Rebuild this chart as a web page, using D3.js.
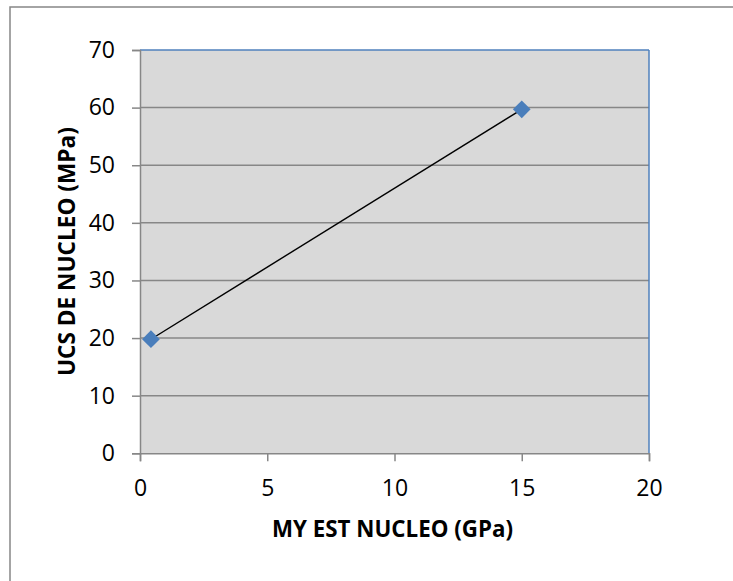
<!DOCTYPE html>
<html><head><meta charset="utf-8">
<script src="https://cdn.jsdelivr.net/npm/d3@7"></script>
<style>body{margin:0;background:#fff}svg{display:block}</style>
</head><body><svg id="c" width="733" height="581"></svg>
<script>
const xValues = [0.43, 15.0];
const yValues = [19.8, 59.7];
const xTicks = [0, 5, 10, 15, 20];
const yTicks = [0, 10, 20, 30, 40, 50, 60, 70];
const xTitle = "MY EST NUCLEO (GPa)";
const yTitle = "UCS DE NUCLEO (MPa)";

const svg = d3.select("#c");
const font = "'Open Sans', 'Liberation Sans', sans-serif";
svg.append("rect").attr("x",10).attr("y",7).attr("width",740).attr("height",600)
  .attr("fill","#fff").attr("stroke","#878787").attr("stroke-width",1.5);

const L=140, R=649, T=50, B=453.3;
const x = d3.scaleLinear().domain([0,20]).range([L,R]);
const y = d3.scaleLinear().domain([0,70]).range([B,T]);

svg.append("rect").attr("x",L).attr("y",T).attr("width",R-L).attr("height",B-T).attr("fill","#d9d9d9");
svg.append("g").selectAll("line").data(yTicks.filter(d=>d>0&&d<70)).join("line")
  .attr("x1",L).attr("x2",R).attr("y1",d=>y(d)).attr("y2",d=>y(d))
  .attr("stroke","#878787").attr("stroke-width",1.5);
svg.append("line").attr("x1",L).attr("x2",R).attr("y1",T).attr("y2",T).attr("stroke","#4f81bd").attr("stroke-width",1.5);
svg.append("line").attr("x1",R).attr("x2",R).attr("y1",T).attr("y2",B).attr("stroke","#4f81bd").attr("stroke-width",1.5);

const yAxis = d3.axisLeft(y).tickValues(yTicks).tickSize(8).tickPadding(17);
const gy = svg.append("g").attr("transform",`translate(${L},0)`).call(yAxis);
const xAxis = d3.axisBottom(x).tickValues(xTicks).tickSize(8).tickPadding(18);
const gx = svg.append("g").attr("transform",`translate(0,${B})`).call(xAxis);
[gx,gy].forEach(g=>{
  g.attr("font-family",null).attr("font-size",null);
  g.select(".domain").attr("stroke","#878787").attr("stroke-width",1.5);
  g.selectAll(".tick line").attr("stroke","#878787").attr("stroke-width",1.5);
  g.selectAll(".tick text").attr("fill","#000").style("font-family",font).style("font-size","23px");
});

svg.append("path").datum(xValues.map((v,i)=>[v,yValues[i]]))
  .attr("d", d3.line().x(d=>x(d[0])).y(d=>y(d[1])))
  .attr("fill","none").attr("stroke","#000").attr("stroke-width",1.4);
svg.append("g").selectAll("path").data(xValues.map((v,i)=>[v,yValues[i]])).join("path")
  .attr("d", d3.symbol().type(d3.symbolDiamond2).size(200))
  .attr("transform", d=>`translate(${x(d[0])},${y(d[1])})`)
  .attr("fill","#4a7ebb");

function fit(t, w){
  t.style("font-size","20px");
  const len = t.node().getComputedTextLength();
  t.style("font-size",(20*w/len).toFixed(2)+"px");
}
const xt = svg.append("text").attr("x",392.5).attr("y",537).attr("text-anchor","middle")
  .style("font-family",font).style("font-weight","bold").text(xTitle);
fit(xt, 241);
const yt = svg.append("text").attr("transform",`translate(75,${(T+B)/2}) rotate(-90)`).attr("text-anchor","middle")
  .style("font-family",font).style("font-weight","bold").text(yTitle);
fit(yt, 249);
</script></body></html>
